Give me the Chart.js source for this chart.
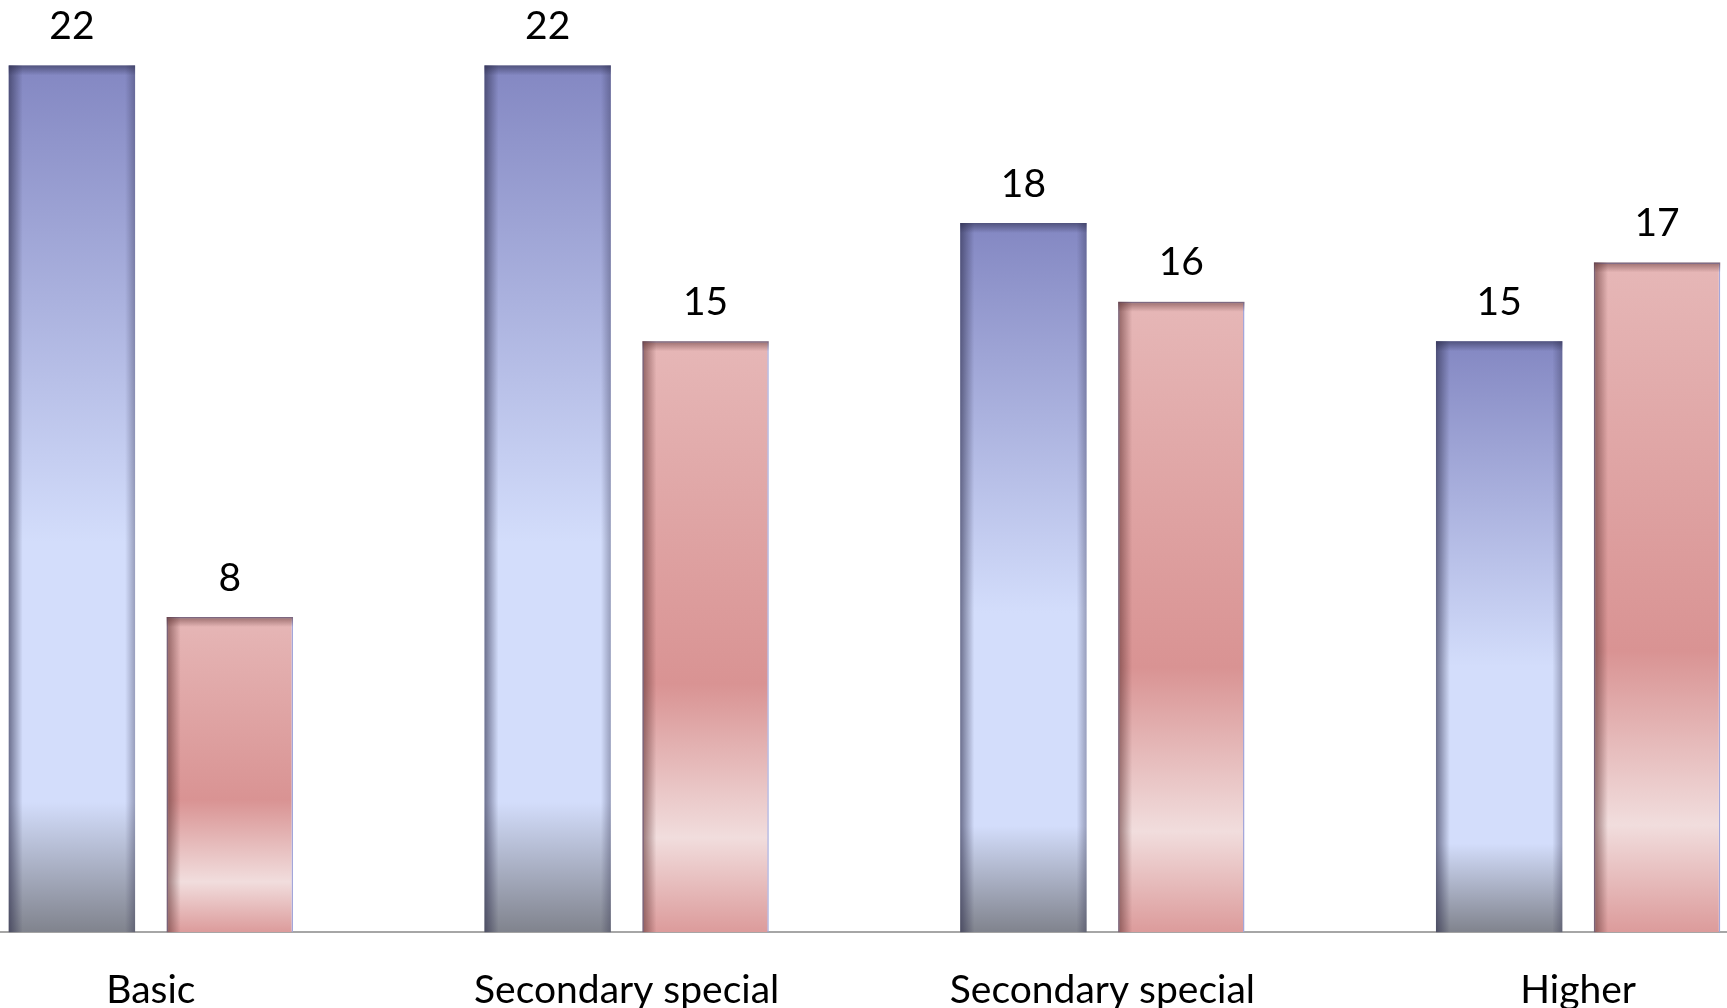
<!DOCTYPE html>
<html>
<head>
<meta charset="utf-8">
<title>Education level</title>
<script src="https://cdn.jsdelivr.net/npm/chart.js@4.4.1/dist/chart.umd.min.js"></script>
<style>
  html, body { margin: 0; padding: 0; background: #fff; overflow: hidden; }
  body { width: 1727px; height: 1008px; position: relative; }
  #wrap { position: absolute; left: -87px; top: 0; width: 1903px; height: 1008px; }
</style>
</head>
<body>
<div id="wrap"><canvas id="eduChart" width="1903" height="1008"></canvas></div>
<script>
const categories = ['Basic', 'Secondary special', 'Secondary special', 'Higher'];
const firstGroup = [22, 22, 18, 15];
const secondGroup = [8, 15, 16, 17];

const blueStops = [[0, '#8387c2'], [0.55, '#d3ddfb'], [0.85, '#d3ddfb'], [1, '#80838d']];
const redStops = [[0, '#e6b7b7'], [0.58, '#d99393'], [0.84, '#f1dddd'], [1, '#dc9b9b']];

// vertical gradient sized to each bar
function barFill(ctx, stops) {
    const chart = ctx.chart;
    const y = chart.scales.y;
    if (!chart.chartArea || !y) return stops[0][1];
    const top = y.getPixelForValue(ctx.raw);
    const bottom = y.getPixelForValue(0);
    const g = chart.ctx.createLinearGradient(0, top, 0, bottom);
    stops.forEach(([o, c]) => g.addColorStop(o, c));
    return g;
}

// soft inner shadow on the bar edges + value label on top
const barDecor = {
    id: 'barDecor',
    afterDatasetsDraw(chart) {
        const c = chart.ctx;
        chart.data.datasets.forEach((ds, di) => {
            const meta = chart.getDatasetMeta(di);
            meta.data.forEach((bar, i) => {
                const { x, y, base, width } = bar.getProps(['x', 'y', 'base', 'width'], true);
                const left = x - width / 2;
                const right = x + width / 2;
                const shade = di === 0 ? '40,40,70' : '90,45,45';
                c.save();
                let g = c.createLinearGradient(left, 0, left + 14, 0);
                g.addColorStop(0, 'rgba(' + shade + ',0.6)');
                g.addColorStop(1, 'rgba(' + shade + ',0)');
                c.fillStyle = g;
                c.fillRect(left, y, 14, base - y);
                if (di === 0) {
                    g = c.createLinearGradient(right, 0, right - 10, 0);
                    g.addColorStop(0, 'rgba(' + shade + ',0.35)');
                    g.addColorStop(1, 'rgba(' + shade + ',0)');
                    c.fillStyle = g;
                    c.fillRect(right - 10, y, 10, base - y);
                }
                g = c.createLinearGradient(0, y, 0, y + 10);
                g.addColorStop(0, 'rgba(' + shade + ',0.55)');
                g.addColorStop(1, 'rgba(' + shade + ',0)');
                c.fillStyle = g;
                c.fillRect(left, y, width, 10);
                c.restore();

                c.save();
                c.fillStyle = '#000';
                c.font = '39px Lato';
                c.textAlign = 'center';
                c.textBaseline = 'middle';
                c.fillText(ds.data[i], x, y - 39);
                c.restore();
            });
        });
    }
};

const ctx = document.getElementById('eduChart').getContext('2d');
new Chart(ctx, {
    type: 'bar',
    data: {
        labels: categories,
        datasets: [{
            data: firstGroup,
            backgroundColor: (c) => barFill(c, blueStops),
            borderWidth: 0,
            categoryPercentage: 0.664,
            barPercentage: 0.8
        }, {
            data: secondGroup,
            backgroundColor: (c) => barFill(c, redStops),
            borderColor: '#a3a6da',
            borderWidth: 1.5,
            categoryPercentage: 0.664,
            barPercentage: 0.8
        }]
    },
    options: {
        responsive: false,
        animation: false,
        layout: { padding: { top: 26, left: 0, right: 0, bottom: -41 } },
        plugins: {
            legend: { display: false },
            tooltip: { enabled: false }
        },
        scales: {
            x: {
                grid: { display: false, drawTicks: false },
                border: { display: true, color: '#a6a6a6', width: 2 },
                ticks: {
                    color: '#000',
                    padding: 35,
                    maxRotation: 0,
                    font: { family: 'Lato', size: 39, lineHeight: 1.2 }
                }
            },
            y: {
                display: false,
                min: 0,
                max: 23
            }
        }
    },
    plugins: [barDecor]
});
</script>
</body>
</html>
